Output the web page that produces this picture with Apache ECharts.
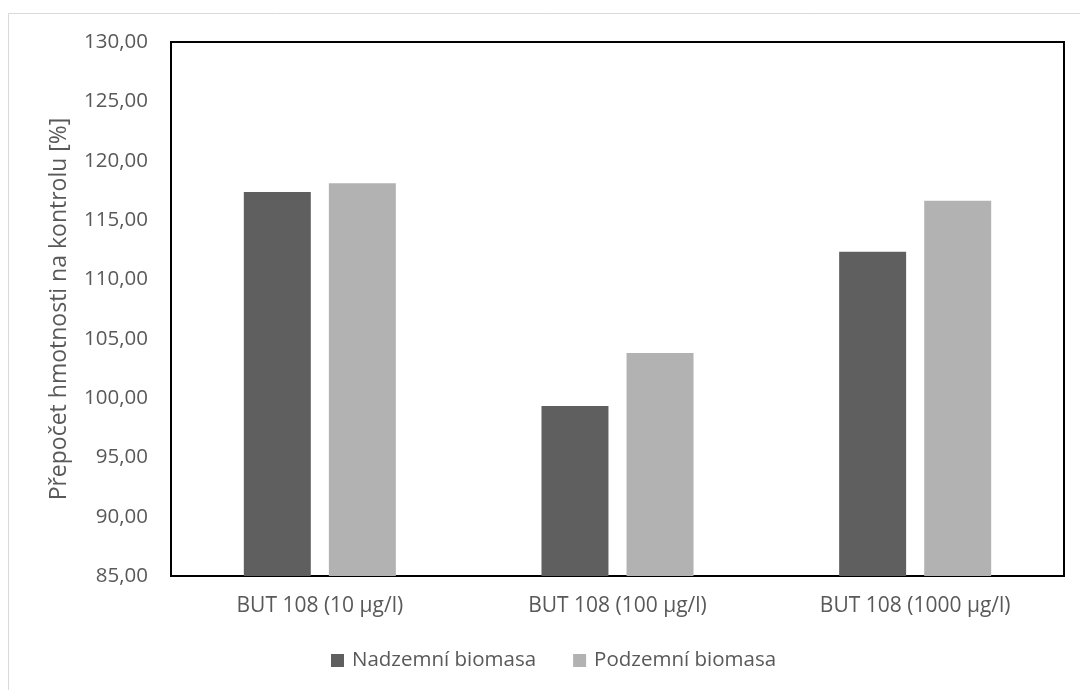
<!DOCTYPE html>
<html>
<head>
<meta charset="utf-8">
<script src="https://cdn.jsdelivr.net/npm/echarts@6/dist/echarts.min.js"></script>
<style>html,body{margin:0;padding:0;background:#fff;}#c{width:1080px;height:690px;}</style>
</head>
<body>
<div id="c"></div>
<script>
var categories = ['BUT 108 (10 µg/l)', 'BUT 108 (100 µg/l)', 'BUT 108 (1000 µg/l)'];
var seriesNames = ['Nadzemní biomasa', 'Podzemní biomasa'];
var nadzemni = [117.36, 99.33, 112.33];
var podzemni = [118.10, 103.80, 116.63];
var yMin = 85, yMax = 130, yStep = 5;
var yTitle = 'Přepočet hmotnosti na kontrolu [%]';

var font = 'Open Sans';
var textColor = '#595959';
var chart = echarts.init(document.getElementById('c'), null, {renderer: 'canvas'});
chart.setOption({
  animation: false,
  backgroundColor: '#fff',
  textStyle: {fontFamily: font},
  graphic: [
    {type: 'line', shape: {x1: 8.5, y1: 13.5, x2: 1080, y2: 13.5}, style: {stroke: '#d9d9d9', lineWidth: 1}, silent: true},
    {type: 'line', shape: {x1: 8.5, y1: 13.5, x2: 8.5, y2: 690}, style: {stroke: '#d9d9d9', lineWidth: 1}, silent: true}
  ],
  grid: {left: 171, top: 42, right: 16, bottom: 114, show: true, borderColor: '#000', borderWidth: 2, backgroundColor: 'transparent'},
  legend: {
    bottom: 14, left: 326, itemWidth: 13, itemHeight: 13, itemGap: 37,
    icon: 'rect',
    textStyle: {fontFamily: font, fontSize: 20.5, color: textColor, padding: [0, 0, 0, 3]},
    data: seriesNames
  },
  xAxis: {
    type: 'category', data: categories,
    axisLine: {show: false}, axisTick: {show: false},
    axisLabel: {fontFamily: font, fontSize: 21, color: textColor, margin: 20}
  },
  yAxis: {
    type: 'value', min: yMin, max: yMax, interval: yStep,
    name: yTitle, nameLocation: 'middle', nameGap: 100, nameRotate: 90,
    nameTextStyle: {fontFamily: font, fontSize: 23, color: textColor},
    splitLine: {show: false}, axisLine: {show: false}, axisTick: {show: false},
    axisLabel: {fontFamily: font, fontSize: 20.5, color: textColor, margin: 23,
      formatter: function (v) { return v.toFixed(2).replace('.', ','); }}
  },
  series: [
    {name: seriesNames[0], type: 'bar', data: nadzemni, barWidth: '22.5%', barGap: '27%', itemStyle: {color: '#5f5f5f'}},
    {name: seriesNames[1], type: 'bar', data: podzemni, barWidth: '22.5%', barGap: '27%', itemStyle: {color: '#b2b2b2'}}
  ]
});
</script>
</body>
</html>
